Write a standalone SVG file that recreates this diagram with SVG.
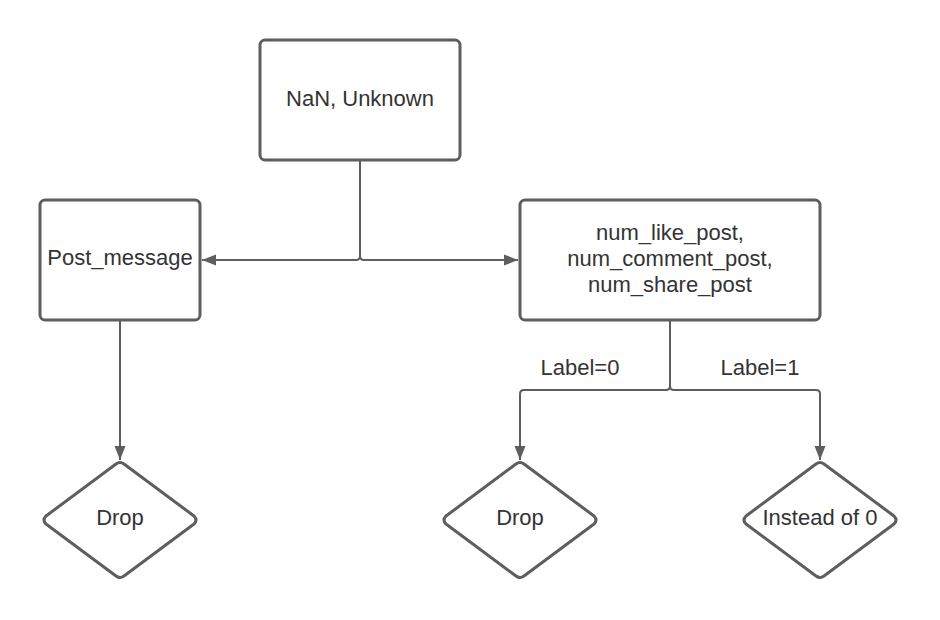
<svg xmlns="http://www.w3.org/2000/svg" width="940" height="620" viewBox="0 0 940 620">
<style>
.box{fill:#fff;stroke:#5e5e5e;stroke-width:3;stroke-linejoin:round}
.t{font-family:"Liberation Sans",Arial,sans-serif;font-size:22px;fill:#333;text-anchor:middle;dominant-baseline:central}
.c{fill:none;stroke:#5e5e5e;stroke-width:2}
</style>
<defs>
<marker id="ah" viewBox="0 0 14 14" refX="14" refY="7" markerWidth="14" markerHeight="14" markerUnits="userSpaceOnUse" orient="auto">
<path d="M0,1.5 L14,7 L0,12.5 Z" fill="#5e5e5e"/>
</marker>
</defs>
<rect width="940" height="620" fill="#fff"/>
<g id="connectors">
<path class="c" d="M360,160 V256 Q360,260 356,260 H202" marker-end="url(#ah)"/>
<path class="c" d="M360,160 V256 Q360,260 364,260 H518" marker-end="url(#ah)"/>
<path class="c" d="M120,320 V460" marker-end="url(#ah)"/>
<path class="c" d="M670,320 V386 Q670,390 666,390 H524 Q520,390 520,394 V460" marker-end="url(#ah)"/>
<path class="c" d="M670,320 V386 Q670,390 674,390 H816 Q820,390 820,394 V460" marker-end="url(#ah)"/>
<text class="t" x="580" y="367">Label=0</text>
<text class="t" x="760" y="367">Label=1</text>
</g>
<g id="nan">
<rect class="box" x="260" y="40" width="200" height="120" rx="5"/>
<text class="t" x="360" y="98">NaN, Unknown</text>
</g>
<g id="post_message">
<rect class="box" x="40" y="200" width="160" height="120" rx="5"/>
<text class="t" x="120" y="257">Post_message</text>
</g>
<g id="num_posts">
<rect class="box" x="520" y="200" width="300" height="120" rx="5"/>
<text class="t" x="670" y="232">num_like_post,</text>
<text class="t" x="670" y="258">num_comment_post,</text>
<text class="t" x="670" y="284">num_share_post</text>
</g>
<g id="drop1">
<path class="box" d="M116,464 Q120,461 124,464 L194,516 Q198,520 194,524 L124,576 Q120,579 116,576 L46,524 Q42,520 46,516 Z"/>
<text class="t" x="120" y="517">Drop</text>
</g>
<g id="drop2">
<path class="box" d="M516,464 Q520,461 524,464 L594,516 Q598,520 594,524 L524,576 Q520,579 516,576 L446,524 Q442,520 446,516 Z"/>
<text class="t" x="520" y="517">Drop</text>
</g>
<g id="instead">
<path class="box" d="M816,464 Q820,461 824,464 L894,516 Q898,520 894,524 L824,576 Q820,579 816,576 L746,524 Q742,520 746,516 Z"/>
<text class="t" x="820" y="517">Instead of 0</text>
</g>
</svg>
